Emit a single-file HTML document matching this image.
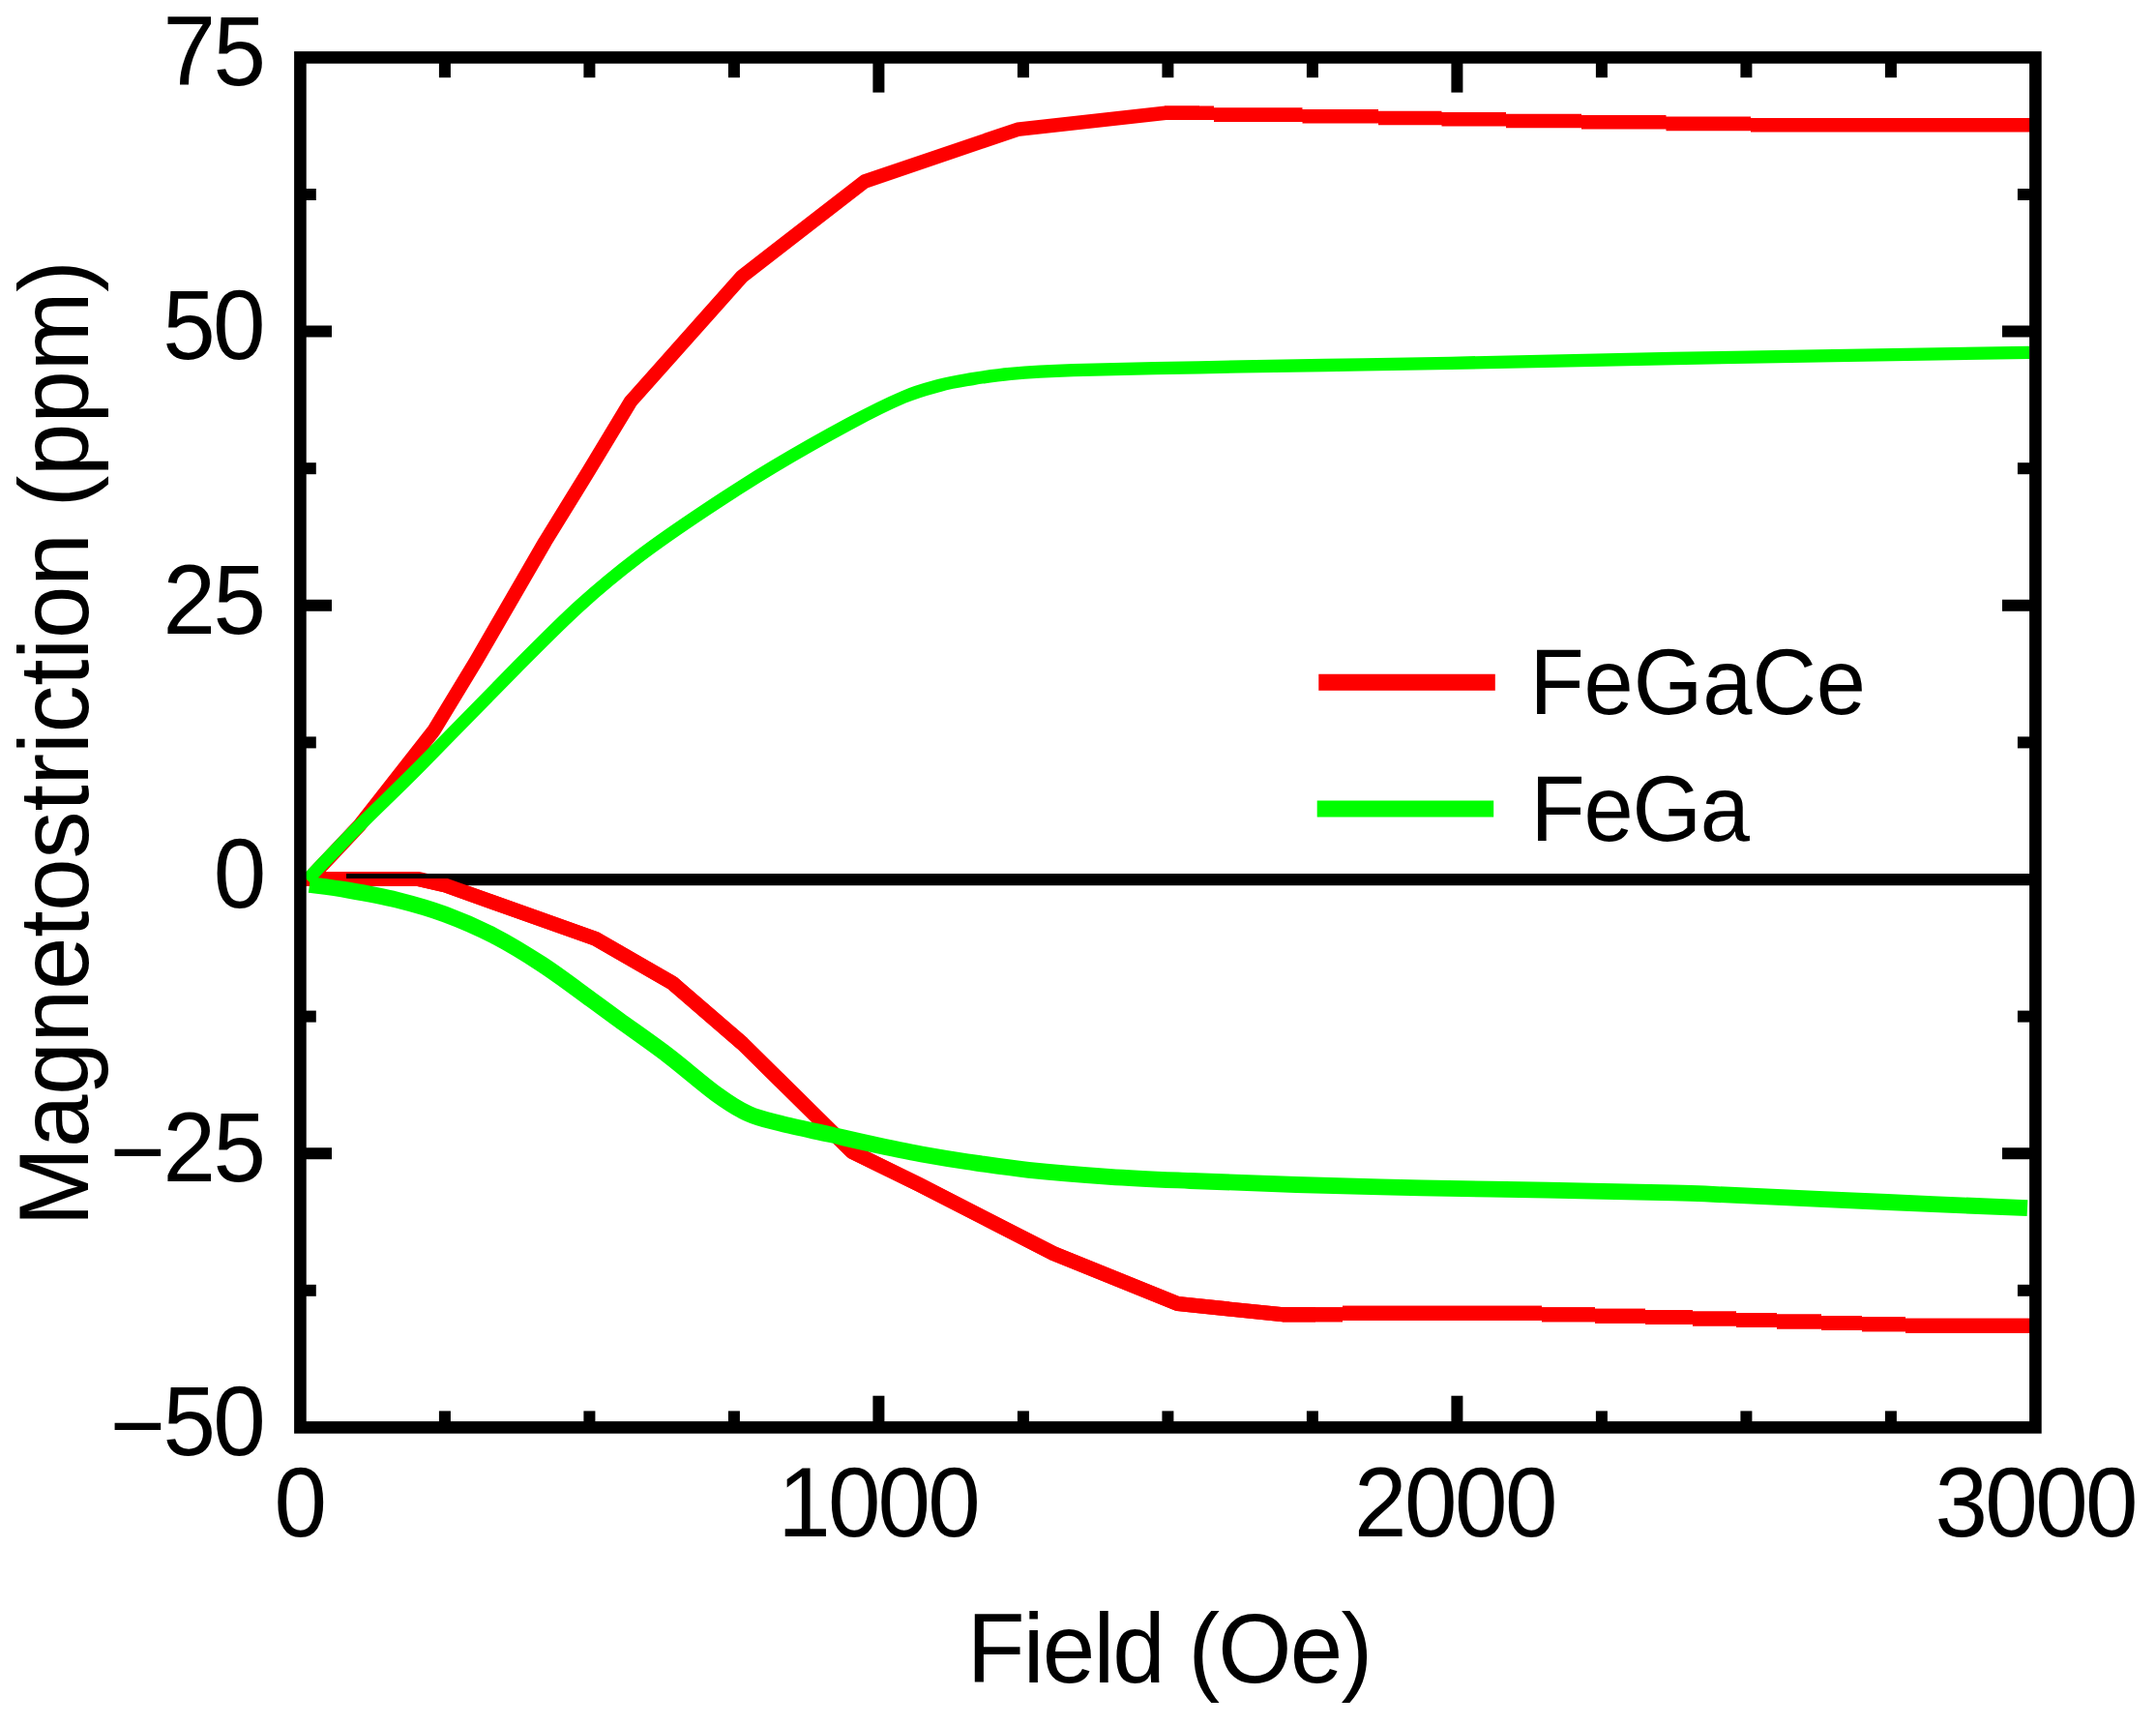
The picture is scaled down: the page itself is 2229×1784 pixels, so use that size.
<!DOCTYPE html>
<html lang="en"><head><meta charset="utf-8"><title>Magnetostriction vs Field</title>
<style>
html,body{margin:0;padding:0;background:#fff;}
body{width:2229px;height:1784px;overflow:hidden;}
svg{display:block;}
text{font-family:"Liberation Sans",Arial,sans-serif;fill:#000;}
</style></head><body>
<svg width="2229" height="1784" viewBox="0 0 2229 1784">
<rect x="0" y="0" width="2229" height="1784" fill="#ffffff"/>
<g stroke="#000" stroke-width="12">
<line x1="459.9" y1="59.4" x2="459.9" y2="80.2"/>
<line x1="459.9" y1="1475.4" x2="459.9" y2="1458.4"/>
<line x1="609.4" y1="59.4" x2="609.4" y2="80.2"/>
<line x1="609.4" y1="1475.4" x2="609.4" y2="1458.4"/>
<line x1="758.9" y1="59.4" x2="758.9" y2="80.2"/>
<line x1="758.9" y1="1475.4" x2="758.9" y2="1458.4"/>
<line x1="908.4" y1="59.4" x2="908.4" y2="95.6"/>
<line x1="908.4" y1="1475.4" x2="908.4" y2="1442.7"/>
<line x1="1057.9" y1="59.4" x2="1057.9" y2="80.2"/>
<line x1="1057.9" y1="1475.4" x2="1057.9" y2="1458.4"/>
<line x1="1207.4" y1="59.4" x2="1207.4" y2="80.2"/>
<line x1="1207.4" y1="1475.4" x2="1207.4" y2="1458.4"/>
<line x1="1356.9" y1="59.4" x2="1356.9" y2="80.2"/>
<line x1="1356.9" y1="1475.4" x2="1356.9" y2="1458.4"/>
<line x1="1506.4" y1="59.4" x2="1506.4" y2="95.6"/>
<line x1="1506.4" y1="1475.4" x2="1506.4" y2="1442.7"/>
<line x1="1655.9" y1="59.4" x2="1655.9" y2="80.2"/>
<line x1="1655.9" y1="1475.4" x2="1655.9" y2="1458.4"/>
<line x1="1805.4" y1="59.4" x2="1805.4" y2="80.2"/>
<line x1="1805.4" y1="1475.4" x2="1805.4" y2="1458.4"/>
<line x1="1954.9" y1="59.4" x2="1954.9" y2="80.2"/>
<line x1="1954.9" y1="1475.4" x2="1954.9" y2="1458.4"/>
<line x1="310.4" y1="201.0" x2="326.8" y2="201.0"/>
<line x1="2104.4" y1="201.0" x2="2085.9" y2="201.0"/>
<line x1="310.4" y1="342.6" x2="343.0" y2="342.6"/>
<line x1="2104.4" y1="342.6" x2="2070.0" y2="342.6"/>
<line x1="310.4" y1="484.2" x2="326.8" y2="484.2"/>
<line x1="2104.4" y1="484.2" x2="2085.9" y2="484.2"/>
<line x1="310.4" y1="625.8" x2="343.0" y2="625.8"/>
<line x1="2104.4" y1="625.8" x2="2070.0" y2="625.8"/>
<line x1="310.4" y1="767.4" x2="326.8" y2="767.4"/>
<line x1="2104.4" y1="767.4" x2="2085.9" y2="767.4"/>
<line x1="310.4" y1="909.0" x2="343.0" y2="909.0"/>
<line x1="2104.4" y1="909.0" x2="2070.0" y2="909.0"/>
<line x1="310.4" y1="1050.6" x2="326.8" y2="1050.6"/>
<line x1="2104.4" y1="1050.6" x2="2085.9" y2="1050.6"/>
<line x1="310.4" y1="1192.2" x2="343.0" y2="1192.2"/>
<line x1="2104.4" y1="1192.2" x2="2070.0" y2="1192.2"/>
<line x1="310.4" y1="1333.8" x2="326.8" y2="1333.8"/>
<line x1="2104.4" y1="1333.8" x2="2085.9" y2="1333.8"/>
</g>
<defs><clipPath id="c0"><polygon points="300,880 358,880 358,908.0 2229,908.0 2229,1500 300,1500"/></clipPath></defs>
<polyline points="316.0,908.6 433.0,908.6 460.3,915.0 615.6,970.3 695.1,1016.0 767.5,1078.5 881.0,1190.5 950.0,1224.3 1089.0,1295.5 1217.5,1347.5 1326.6,1358.8 1360.0,1358.8" fill="none" stroke="#fe0000" stroke-width="15.0" stroke-linejoin="round"/><path d="M1326.0,1358.8H1388.0 M1388.0,1357.3H1594.0 M1594.0,1358.7H1649.0 M1649.0,1360.2H1701.0 M1701.0,1361.6H1750.0 M1750.0,1363.1H1795.0 M1795.0,1364.5H1837.0 M1837.0,1365.9H1883.0 M1883.0,1367.4H1925.0 M1925.0,1368.8H1970.0 M1970.0,1370.3H2104.0" fill="none" stroke="#fe0000" stroke-width="15.0"/>
<line x1="358" y1="909.1" x2="2104.4" y2="909.1" stroke="#000" stroke-width="12.2"/>
<g clip-path="url(#c0)"><polyline points="316.0,908.6 433.0,908.6 460.3,915.0 615.6,970.3 695.1,1016.0 767.5,1078.5 881.0,1190.5 950.0,1224.3 1089.0,1295.5 1217.5,1347.5 1326.6,1358.8 1360.0,1358.8" fill="none" stroke="#fe0000" stroke-width="15.0" stroke-linejoin="round"/><path d="M1326.0,1358.8H1388.0 M1388.0,1357.3H1594.0 M1594.0,1358.7H1649.0 M1649.0,1360.2H1701.0 M1701.0,1361.6H1750.0 M1750.0,1363.1H1795.0 M1795.0,1364.5H1837.0 M1837.0,1365.9H1883.0 M1883.0,1367.4H1925.0 M1925.0,1368.8H1970.0 M1970.0,1370.3H2104.0" fill="none" stroke="#fe0000" stroke-width="15.0"/></g>
<polyline points="318.0,910.3 371.6,853.2 448.6,755.0 492.3,683.0 563.5,560.0 608.5,487.0 652.0,415.0 767.5,285.4 894.0,187.5 1052.0,133.8 1205.0,116.8 1240.0,116.8" fill="none" stroke="#fe0000" stroke-width="14.6" stroke-linejoin="round"/><path d="M1204.0,116.8H1255.0 M1255.0,118.6H1346.5 M1346.5,120.3H1425.0 M1425.0,122.0H1490.5 M1490.5,123.3H1557.0 M1557.0,125.0H1635.0 M1635.0,126.3H1722.5 M1722.5,127.9H1810.0 M1810.0,129.3H2104.0" fill="none" stroke="#fe0000" stroke-width="14.6"/>
<path d="M317.5,909.5 C326.2,900.4 350.6,874.6 370.0,855.0 C389.4,835.4 406.7,819.5 434.0,792.0 C461.3,764.5 506.3,717.8 534.0,690.0 C561.7,662.2 579.0,644.5 600.0,625.5 C621.0,606.5 638.3,592.3 660.0,575.8 C681.7,559.3 706.7,542.3 730.0,526.8 C753.3,511.2 775.3,497.1 800.0,482.3 C824.7,467.5 856.0,449.9 878.3,437.9 C900.6,425.9 918.5,417.1 934.0,410.5 C949.5,403.9 960.0,401.5 971.0,398.5 C982.0,395.5 987.7,394.5 1000.0,392.5 C1012.3,390.5 1026.5,387.9 1044.8,386.3 C1063.1,384.7 1077.2,383.7 1109.7,382.6 C1142.2,381.5 1196.3,380.7 1239.6,379.8 C1282.9,378.9 1326.1,378.2 1369.5,377.5 C1412.9,376.8 1439.9,376.5 1500.0,375.3 C1560.1,374.1 1630.3,372.3 1730.0,370.5 C1829.7,368.7 2036.7,365.4 2098.0,364.4" fill="none" stroke="#00fe00" stroke-width="13.3" stroke-linejoin="round"/>
<path d="M320.0,914.5 C326.7,915.4 345.1,917.5 360.1,920.1 C375.1,922.7 393.5,925.9 410.2,930.1 C426.9,934.3 443.6,938.9 460.3,945.1 C477.0,951.3 493.7,958.5 510.4,967.1 C527.1,975.7 543.8,986.0 560.5,996.9 C577.2,1007.8 597.4,1023.2 610.6,1032.8 C623.9,1042.4 626.8,1044.7 640.0,1054.3 C653.2,1063.9 673.4,1077.8 690.1,1090.5 C706.8,1103.2 726.3,1120.5 740.2,1130.6 C754.1,1140.7 762.5,1146.0 773.6,1151.1 C784.7,1156.2 793.1,1157.7 807.0,1161.2 C820.9,1164.8 840.4,1168.7 857.1,1172.4 C873.8,1176.2 890.5,1180.2 907.2,1183.7 C923.9,1187.2 941.7,1190.9 957.2,1193.7 C972.7,1196.5 982.3,1198.1 1000.0,1200.7 C1017.7,1203.3 1039.0,1206.7 1063.5,1209.3 C1088.0,1211.9 1119.2,1214.4 1147.0,1216.3 C1174.8,1218.2 1198.3,1219.1 1230.5,1220.5 C1262.7,1221.9 1300.2,1223.3 1340.0,1224.5 C1379.8,1225.7 1426.2,1226.8 1469.5,1227.8 C1512.8,1228.8 1556.6,1229.4 1600.0,1230.2 C1643.4,1231.0 1698.5,1232.0 1730.0,1232.8 C1761.5,1233.6 1752.2,1233.6 1789.0,1235.2 C1825.8,1236.8 1899.8,1240.2 1951.0,1242.5 C2002.2,1244.8 2071.8,1247.7 2096.0,1248.7" fill="none" stroke="#00fe00" stroke-width="16.8" stroke-linejoin="round"/>
<rect x="310.4" y="59.4" width="1794.0" height="1416.0" fill="none" stroke="#000" stroke-width="12.6"/>
<text transform="translate(168.48,88.20) scale(0.961,1)" font-size="102" letter-spacing="-2.70">75</text>
<text transform="translate(168.19,371.40) scale(0.961,1)" font-size="102" letter-spacing="-2.70">50</text>
<text transform="translate(168.48,654.60) scale(0.961,1)" font-size="102" letter-spacing="-2.70">25</text>
<text transform="translate(220.67,937.80) scale(0.961,1)" font-size="102" letter-spacing="0.00">0</text>
<text transform="translate(113.83,1221.00) scale(0.961,1)" font-size="102" letter-spacing="-2.70"><tspan dy="4">−</tspan><tspan dy="-4">25</tspan></text>
<text transform="translate(113.74,1504.20) scale(0.961,1)" font-size="102" letter-spacing="-2.70"><tspan dy="4">−</tspan><tspan dy="-4">50</tspan></text>
<text transform="translate(283.57,1587.60) scale(0.961,1)" font-size="102" letter-spacing="0.00">0</text>
<text transform="translate(804.33,1587.60) scale(0.961,1)" font-size="102" letter-spacing="-3.01">1000</text>
<text transform="translate(1400.07,1587.60) scale(0.961,1)" font-size="102" letter-spacing="-2.60">2000</text>
<text transform="translate(2000.47,1587.60) scale(0.961,1)" font-size="102" letter-spacing="-2.74">3000</text>
<text transform="translate(999.66,1739.30) scale(0.961,1)" font-size="102" letter-spacing="-1.88">Field (Oe)</text>
<text transform="translate(91.00,1267.54) rotate(-90) scale(0.961,1)" font-size="102" letter-spacing="-0.19">Magnetostriction (ppm)</text>
<line x1="1363.3" y1="705.2" x2="1545.8" y2="705.2" stroke="#fe0000" stroke-width="17"/>
<line x1="1361.7" y1="835.9" x2="1544.2" y2="835.9" stroke="#00fe00" stroke-width="17"/>
<text transform="translate(1581.45,738.00) scale(0.961,1)" font-size="95.8" letter-spacing="-0.06">FeGaCe</text>
<text transform="translate(1582.45,868.80) scale(0.961,1)" font-size="95.8" letter-spacing="-1.28">FeGa</text>
</svg>
</body></html>
